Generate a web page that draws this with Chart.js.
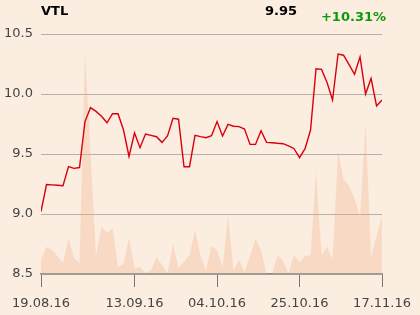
<!DOCTYPE html>
<html>
<head>
<meta charset="utf-8">
<script src="https://cdn.jsdelivr.net/npm/chart.js@4/dist/chart.umd.min.js"></script>
<style>
html,body{margin:0;padding:0;background:#fcede1;}
#wrap{position:relative;width:420px;height:315px;}
canvas{display:block;}
</style>
</head>
<body>
<div id="wrap"><canvas id="c" width="420" height="315"></canvas></div>
<script>
// ---- data ----
const symbol = "VTL";
const lastPrice = "9.95";
const change = "+10.31%";
const price = [9.02, 9.245, 9.243, 9.24, 9.236, 9.395, 9.38, 9.387, 9.77, 9.886,
  9.855, 9.815, 9.76, 9.836, 9.836, 9.70, 9.48, 9.675, 9.553, 9.667,
  9.655, 9.644, 9.597, 9.65, 9.797, 9.79, 9.394, 9.394, 9.656, 9.645,
  9.636, 9.653, 9.77, 9.65, 9.747, 9.731, 9.728, 9.708, 9.58, 9.58,
  9.694, 9.597, 9.594, 9.589, 9.586, 9.567, 9.544, 9.469, 9.545, 9.70,
  10.21, 10.205, 10.095, 9.95, 10.333, 10.323, 10.245, 10.164, 10.31, 10.00,
  10.13, 9.90, 9.95];
const volume = [14, 27, 24, 18, 11, 36, 16, 11, 222, 120,
  19, 47, 41, 46, 7, 10, 36, 6, 7, 1,
  4, 17, 9, 1, 30, 6, 12, 19, 44, 18,
  4, 28, 24, 7, 58, 4, 14, 2, 18, 35,
  24, 0, 0, 19, 13, 1, 19, 12, 18, 19,
  103, 19, 27, 14, 123, 95, 88, 76, 57, 150,
  17, 38, 59];
const xTickPos = [0, 17, 32, 47, 62];
const xTickLabels = ["19.08.16", "13.09.16", "04.10.16", "25.10.16", "17.11.16"];
const yTicks = [8.5, 9.0, 9.5, 10.0, 10.5];

const headerPlugin = {
  id: 'header',
  afterDraw(chart) {
    const ctx = chart.ctx;
    ctx.save();
    ctx.font = 'bold 13px "DejaVu Sans"';
    ctx.textBaseline = 'alphabetic';
    ctx.fillStyle = '#000';
    ctx.textAlign = 'left';
    ctx.fillText(symbol, 41, 15);
    ctx.textAlign = 'right';
    ctx.fillText(lastPrice, 297, 15);
    ctx.fillStyle = '#0a9a0a';
    ctx.fillText(change, 386, 21);
    ctx.restore();
  }
};

new Chart(document.getElementById('c'), {
  type: 'line',
  data: {
    datasets: [
      {
        label: 'Price',
        data: price.map((v, i) => ({x: i, y: v})),
        borderColor: '#d9000d',
        borderWidth: 1.4,
        pointRadius: 0,
        tension: 0,
        fill: false,
        yAxisID: 'y'
      },
      {
        label: 'Volume',
        data: volume.map((v, i) => ({x: i, y: v})),
        borderWidth: 0,
        borderColor: 'rgba(0,0,0,0)',
        backgroundColor: 'rgba(240,178,138,0.33)',
        pointRadius: 0,
        tension: 0,
        fill: 'origin',
        yAxisID: 'y2'
      }
    ]
  },
  options: {
    responsive: false,
    animation: false,
    devicePixelRatio: 1,
    layout: {padding: {top: 34, right: 34, left: 0, bottom: 0}},
    plugins: {legend: {display: false}, tooltip: {enabled: false}, title: {display: false}},
    scales: {
      x: {
        type: 'linear',
        min: 0,
        max: price.length - 1,
        afterBuildTicks(scale) { scale.ticks = xTickPos.map(v => ({value: v})); },
        afterFit(scale) { scale.height = 41; },
        ticks: {
          autoSkip: false,
          maxRotation: 0,
          padding: 9,
          color: '#444',
          font: {family: '"DejaVu Sans"', size: 13},
          callback(value) { const k = xTickPos.indexOf(value); return k >= 0 ? xTickLabels[k] : ''; }
        },
        grid: {drawOnChartArea: false, drawTicks: true, tickLength: 13, color: '#777', lineWidth: 1},
        border: {display: true, color: '#8a8a8a', width: 1.5}
      },
      y: {
        position: 'left',
        min: 8.5,
        max: 10.5,
        afterBuildTicks(scale) { scale.ticks = yTicks.map(v => ({value: v})); },
        afterFit(scale) { scale.width = 41; },
        ticks: {
          padding: 8,
          color: '#444',
          font: {family: '"DejaVu Sans"', size: 13},
          callback(value) { return value.toFixed(1); }
        },
        grid: {drawTicks: false, color: '#b4b0ac', lineWidth: 1},
        border: {display: false}
      },
      y2: {
        display: false,
        min: 0,
        max: 240
      }
    }
  },
  plugins: [headerPlugin]
});
</script>
</body>
</html>
